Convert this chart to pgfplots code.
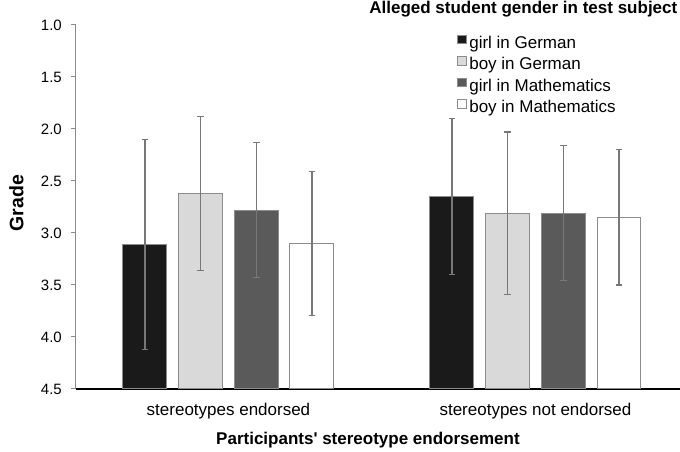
\documentclass[border=0pt]{standalone}
\usepackage{pgfplots}
\pgfplotsset{compat=1.18}
\usepackage{pgfplotstable}
\usepackage{fontspec}
\setmainfont{Liberation Sans}

\definecolor{cBlack}{HTML}{1A1A1A}
\definecolor{cLight}{HTML}{D9D9D9}
\definecolor{cDark}{HTML}{5A5A5A}
\definecolor{cEdge}{HTML}{8C8C8C}
\definecolor{cErr}{HTML}{777777}
\definecolor{cAxis}{HTML}{8A8A8A}

% x: 0 = stereotypes endorsed, 1 = stereotypes not endorsed; m = mean grade, e = error
\pgfplotstableread{
x m e
0 3.11 1.01
1 2.65 0.75
}\girlGer
\pgfplotstableread{
x m e
0 2.62 0.74
1 2.81 0.78
}\boyGer
\pgfplotstableread{
x m e
0 2.78 0.65
1 2.81 0.65
}\girlMath
\pgfplotstableread{
x m e
0 3.10 0.69
1 2.85 0.65
}\boyMath

\begin{document}
\begin{tikzpicture}
\begin{axis}[
  scale only axis, width=604bp, height=364bp,
  xmin=-0.4967, xmax=1.4707, ymin=0, ymax=3.5,
  ybar, bar width=0.1433,
  axis x line*=bottom, axis y line*=left,
  x axis line style={black, line width=1.3bp, -},
  y axis line style={cAxis, line width=1bp, -},
  xtick={0,1},
  xticklabels={stereotypes endorsed, stereotypes not endorsed},
  x tick style={draw=none},
  xticklabel style={font=\fontsize{17bp}{20bp}\selectfont, yshift=-6bp},
  ytick={0,0.5,1,1.5,2,2.5,3,3.5},
  yticklabels={4.5,4.0,3.5,3.0,2.5,2.0,1.5,1.0},
  y tick style={cAxis, line width=1bp},
  yticklabel style={font=\fontsize{15bp}{18bp}\selectfont, inner sep=0pt, xshift=-9bp},
  tick align=outside, major tick length=5bp,
  /pgf/number format/assume math mode=true,
  xlabel={\textbf{Participants\textquotesingle{} stereotype endorsement}},
  xlabel style={at={(axis description cs:0.4834,-0.1538)}, anchor=base, inner sep=0pt, font=\fontsize{17bp}{20bp}\selectfont},
  ylabel={\textbf{Grade}},
  ylabel style={at={(axis description cs:-0.0985,0.511)}, anchor=center, inner sep=0pt, font=\fontsize{19.5bp}{22bp}\selectfont},
  title={\textbf{Alleged student gender in test subject}},
  title style={at={(axis description cs:0.7406,1.0157)}, anchor=base, inner sep=0pt, font=\fontsize{17bp}{20bp}\selectfont},
  legend image code/.code={\draw[#1] (0bp,0bp) rectangle (8.5bp,8.5bp);},
  legend cell align=left,
  legend style={at={(axis description cs:0.6313,0.9734)}, anchor=north west,
    draw=none, fill=none, inner sep=0pt, outer sep=0pt,
    font=\fontsize{17bp}{20bp}\selectfont, row sep=4bp, column sep=2.5bp,
    nodes={inner sep=0pt, text height=13bp, text depth=4bp}},
  error bars/y dir=both, error bars/y explicit,
  error bars/error bar style={cErr, line width=1.3bp},
  error bars/error mark options={rotate=90, cErr, line width=1.3bp, mark size=3.3bp},
]
\addplot[bar shift=-0.272, fill=cBlack, draw=cEdge, line width=1bp]
  table[x=x, y expr=4.5-\thisrow{m}, y error=e]{\girlGer};
\addlegendentry{girl in German}
\addplot[bar shift=-0.0906, fill=cLight, draw=cEdge, line width=1bp]
  table[x=x, y expr=4.5-\thisrow{m}, y error=e]{\boyGer};
\addlegendentry{boy in German}
\addplot[bar shift=0.0906, fill=cDark, draw=cEdge, line width=1bp]
  table[x=x, y expr=4.5-\thisrow{m}, y error=e]{\girlMath};
\addlegendentry{girl in Mathematics}
\addplot[bar shift=0.272, fill=white, draw=cEdge, line width=1bp]
  table[x=x, y expr=4.5-\thisrow{m}, y error=e]{\boyMath};
\addlegendentry{boy in Mathematics}
\end{axis}
\pgfresetboundingbox
\path[use as bounding box] (-76bp,-63bp) rectangle (604bp,389bp);
\end{tikzpicture}
\end{document}
